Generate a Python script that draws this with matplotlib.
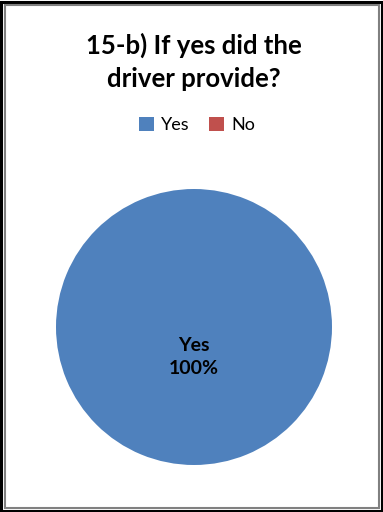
import matplotlib
matplotlib.use("Agg")
import matplotlib.pyplot as plt
from matplotlib.patches import Rectangle

# Survey answers
categories = ["Yes", "No"]
shares = [100, 0]
colors = ["#4F81BD", "#C0504D"]
title = "15-b) If yes did the\ndriver provide?"

W, H = 383, 512
fig = plt.figure(figsize=(W / 100, H / 100), dpi=100)
fig.patch.set_facecolor("white")

# Chart frame: dark outer edge with grey inner rim
fig.patches.append(Rectangle((1.5 / W, 1.5 / H), (W - 3) / W, (H - 3) / H,
                             transform=fig.transFigure, fill=False,
                             edgecolor="black", linewidth=2.2))
fig.patches.append(Rectangle((4.5 / W, 4.5 / H), (W - 9) / W, (H - 9) / H,
                             transform=fig.transFigure, fill=False,
                             edgecolor="#808080", linewidth=1.5))

# Pie axes
cx, cy, r = 194, 512 - 327, 138
ax = fig.add_axes([(cx - r) / W, (cy - r) / H, 2 * r / W, 2 * r / H])
wedges, _ = ax.pie(shares, colors=colors, startangle=90, counterclock=False,
                   radius=1.0, wedgeprops=dict(linewidth=0))
ax.set_xlim(-1, 1)
ax.set_ylim(-1, 1)
ax.axis("off")

# Data label for the non-zero slice
for cat, val in zip(categories, shares):
    if val > 0:
        ax.text(0, -0.215, f"{cat}\n{val}%", ha="center", va="center",
                fontsize=14, fontweight="bold", family=["Lato", "DejaVu Sans"],
                linespacing=1.45, color="black")

# Title
fig.text(cx / W, 1 - 62 / H, title, ha="center", va="center",
         fontsize=18.5, fontweight="bold", family=["Lato", "DejaVu Sans"],
         linespacing=1.42)

# Legend
leg = fig.legend(wedges, categories, loc="center", bbox_to_anchor=(197 / W, 1 - 125 / H),
                 ncol=2, frameon=False, handlelength=0.8,
                 handleheight=0.8, handletextpad=0.4, columnspacing=1.1,
                 prop=dict(family="Lato", size=13))

fig.savefig("out.png", dpi=100)
